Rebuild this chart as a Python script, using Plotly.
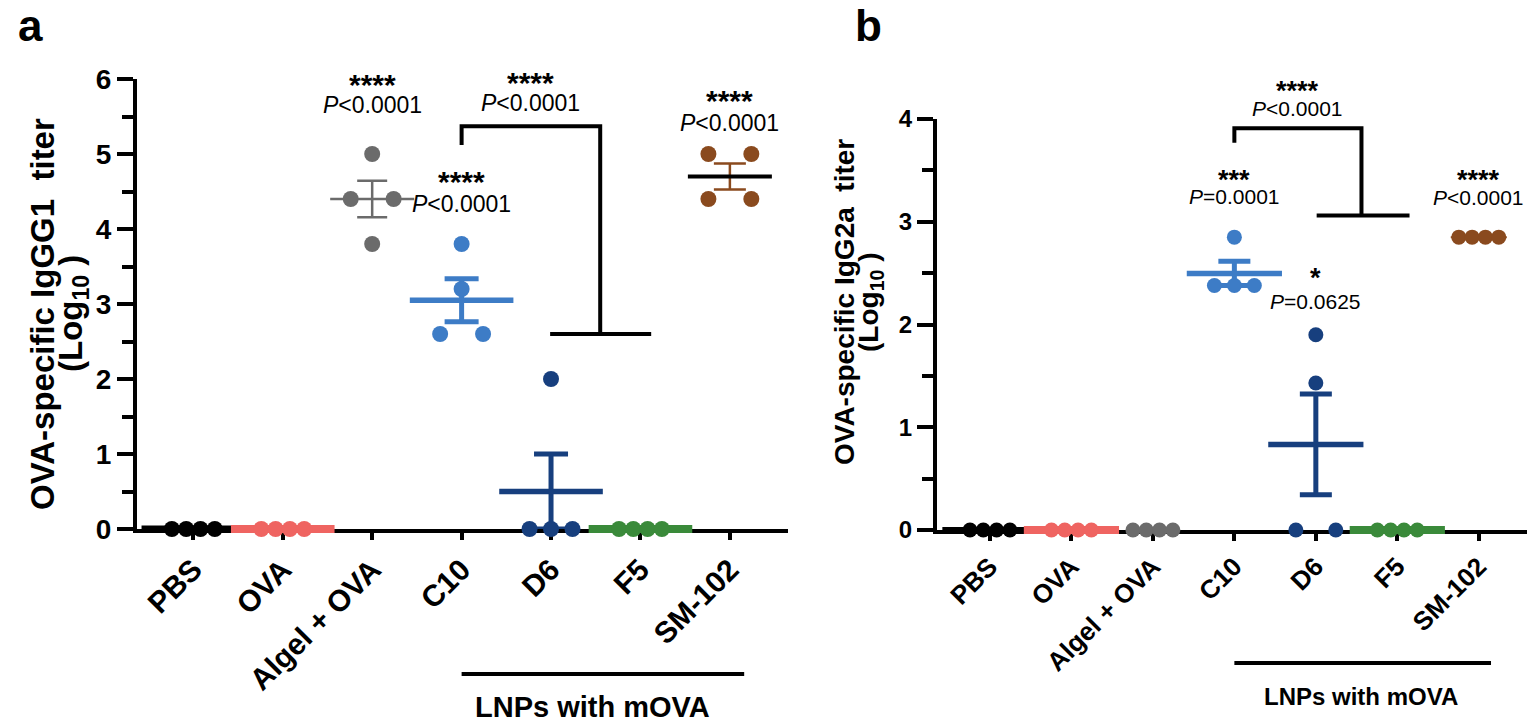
import numpy as np
import plotly.graph_objects as go

# page body keeps an 8px margin, so the figure is drawn 8px in from the top-left
OFFSET = 8
W, H = 1535 - OFFSET, 723 - OFFSET
FONT = "Arial, Liberation Sans, sans-serif"

GROUPS = ["PBS", "OVA", "Algel + OVA", "C10", "D6", "F5", "SM-102"]
COLORS = ["#000000", "#EF6461", "#6B6B6B", "#3D7CC6", "#173F7E", "#3A8A3A", "#8A4A1E"]

# log10 titers, 4 mice per group
IGG1_TITER = [
    [0, 0, 0, 0],
    [0, 0, 0, 0],
    [5.0, 4.4, 4.4, 3.8],
    [3.8, 3.2, 2.6, 2.6],
    [2.0, 0, 0, 0],
    [0, 0, 0, 0],
    [5.0, 5.0, 4.4, 4.4],
]
IGG2A_TITER = [
    [0, 0, 0, 0],
    [0, 0, 0, 0],
    [0, 0, 0, 0],
    [2.85, 2.38, 2.38, 2.38],
    [1.9, 1.43, 0, 0],
    [0, 0, 0, 0],
    [2.85, 2.85, 2.85, 2.85],
]

SIG_A = [("****", "<i>P</i>&lt;0.0001"), ("****", "<i>P</i>&lt;0.0001"),
         ("****", "<i>P</i>&lt;0.0001"), ("****", "<i>P</i>&lt;0.0001")]
SIG_B = [("****", "<i>P</i>&lt;0.0001"), ("***", "<i>P</i>=0.0001"),
         ("*", "<i>P</i>=0.0625"), ("****", "<i>P</i>&lt;0.0001")]

# mean line: (color, thickness, length px) ; error bar: (color, thickness, cap half width px)
MEAN_A = [("#000000", 7, 74), ("#EF6461", 8, 74), ("#6B6B6B", 2.5, 60), ("#3D7CC6", 5.5, 74),
          ("#173F7E", 5.5, 74), ("#3A8A3A", 8, 74), ("#000000", 4, 60)]
ERR_A = [("#000000", 5, 16), ("#EF6461", 5, 16), ("#6B6B6B", 2.5, 15), ("#3D7CC6", 5, 17),
         ("#173F7E", 5, 17), ("#3A8A3A", 5, 16), ("#8A4A1E", 2.5, 16)]
MEAN_B = [("#000000", 6, 68), ("#EF6461", 8, 68), ("#6B6B6B", 0, 40), ("#3D7CC6", 5.5, 68),
          ("#173F7E", 5.5, 68), ("#3A8A3A", 8, 68), ("#8A4A1E", 2, 40)]
ERR_B = [("#000000", 5, 16), ("#EF6461", 5, 16), ("#6B6B6B", 5, 16), ("#3D7CC6", 5, 16),
         ("#173F7E", 5, 16), ("#3A8A3A", 5, 16), ("#8A4A1E", 2, 16)]


def px_x(p):
    return (p - OFFSET) / W


def px_y(p):
    return 1 - (p - OFFSET) / H


def add_groups(fig, data, xa, ya, spread, msize, mean_st, err_st):
    for i, vals in enumerate(data):
        vals = np.array(vals, dtype=float)
        offs = np.zeros(len(vals))
        for v in np.unique(vals):
            idx = np.where(np.isclose(vals, v))[0]
            if len(idx) > 1:
                offs[idx] = np.linspace(-spread, spread, len(idx))
        mean = vals.mean()
        sem = vals.std(ddof=1) / np.sqrt(len(vals))
        mc, mw, ml = mean_st[i]
        ec, ew, cap = err_st[i]
        fig.add_trace(go.Scatter(
            x=[i], y=[mean], mode="markers", xaxis=xa, yaxis=ya, cliponaxis=False,
            marker=dict(symbol="line-ew", size=ml, color=mc,
                        line=dict(color=mc, width=mw), opacity=1 if mw > 0 else 0),
            error_y=dict(type="data", array=[sem], visible=bool(sem > 0),
                         color=ec, thickness=ew, width=cap),
            hoverinfo="skip"))
        fig.add_trace(go.Scatter(
            x=i + offs, y=vals, mode="markers",
            marker=dict(color=COLORS[i], size=msize, line=dict(width=0)),
            xaxis=xa, yaxis=ya, cliponaxis=False, name=GROUPS[i]))


fig = go.Figure()
add_groups(fig, IGG1_TITER, "x", "y", 0.24, 16, MEAN_A, ERR_A)
add_groups(fig, IGG2A_TITER, "x2", "y2", 0.245, 15, MEAN_B, ERR_B)

annotations = []
shapes = []


def txt(text, x, y, size, xref, yref, bold=False, angle=0):
    annotations.append(dict(
        text=f"<b>{text}</b>" if bold else text, x=x, y=y, xref=xref, yref=yref,
        showarrow=False, xanchor="center", yanchor="middle", textangle=angle,
        font=dict(family=FONT, size=size, color="black")))


# panel letters
txt("a", px_x(30), px_y(26), 44, "paper", "paper", bold=True)
txt("b", px_x(868), px_y(26), 44, "paper", "paper", bold=True)

# y titles
txt("OVA-specific IgGG1  titer", px_x(42), px_y(314), 33, "paper", "paper", bold=True, angle=-90)
txt("(Log<sub>10</sub> )", px_x(73), px_y(314), 33, "paper", "paper", bold=True, angle=-90)
txt("OVA-specific IgG2a  titer", px_x(845), px_y(302), 28, "paper", "paper", bold=True, angle=-90)
txt("(Log<sub>10</sub> )", px_x(871), px_y(302), 28, "paper", "paper", bold=True, angle=-90)

# significance labels, y given in data units, placed in axis-domain fraction
pos_a = [(2, 5.92, 5.65), (3, 4.63, 4.33), (3.77, 5.96, 5.68), (6, 5.71, 5.41)]
for (x, ys, yp), (stars, ptxt) in zip(pos_a, SIG_A):
    txt(stars, x, ys / 6, 30, "x", "y domain", bold=True)
    txt(ptxt, x, yp / 6, 23, "x", "y domain")
pos_b = [(3.77, 4.27, 4.10), (3.0, 3.41, 3.25), (4.0, 2.45, 2.22), (6.0, 3.41, 3.24)]
for (x, ys, yp), (stars, ptxt) in zip(pos_b, SIG_B):
    txt(stars, x, ys / 4, 27, "x2", "y2 domain", bold=True)
    txt(ptxt, x, yp / 4, 21, "x2", "y2 domain")

# comparison brackets
shapes.append(dict(type="path", xref="x", yref="y",
                   path="M 3,5.12 L 3,5.37 L 4.55,5.37 L 4.55,2.6",
                   line=dict(color="black", width=4)))
shapes.append(dict(type="line", xref="x", yref="y", x0=3.99, x1=5.12, y0=2.6, y1=2.6,
                   line=dict(color="black", width=4)))
shapes.append(dict(type="path", xref="x2", yref="y2",
                   path="M 3,3.77 L 3,3.91 L 4.56,3.91 L 4.56,3.06",
                   line=dict(color="black", width=4)))
shapes.append(dict(type="line", xref="x2", yref="y2", x0=4.01, x1=5.15, y0=3.06, y1=3.06,
                   line=dict(color="black", width=4)))

# LNP group bars
shapes.append(dict(type="line", xref="x", yref="paper", x0=3, x1=6.16,
                   y0=px_y(674), y1=px_y(674), line=dict(color="black", width=4)))
txt("LNPs with mOVA", 4.46, px_y(707), 29, "x", "paper", bold=True)
shapes.append(dict(type="line", xref="x2", yref="paper", x0=3, x1=6.15,
                   y0=px_y(663), y1=px_y(663), line=dict(color="black", width=4)))
txt("LNPs with mOVA", 4.56, px_y(696), 24, "x2", "paper", bold=True)

# x-axis stubs left of y axes
shapes.append(dict(type="line", xref="paper", yref="y", x0=px_x(118), x1=px_x(137),
                   y0=0, y1=0, layer="below", line=dict(color="black", width=4)))
shapes.append(dict(type="line", xref="paper", yref="y2", x0=px_x(920), x1=px_x(937),
                   y0=0, y1=0, layer="below", line=dict(color="black", width=4)))


def xaxis(domain, rng, size, anchor):
    return dict(domain=domain, range=rng, anchor=anchor, tickmode="array",
                tickvals=list(range(len(GROUPS))), ticktext=GROUPS, tickangle=-45,
                ticks="outside", ticklen=7, tickwidth=3.5, tickcolor="black",
                showline=True, linewidth=4, linecolor="black", showgrid=False, zeroline=False,
                automargin=False, layer="below traces",
                tickfont=dict(family=FONT, size=size, color="black", weight="bold"))


def yaxis(domain, rng, size, anchor):
    return dict(domain=domain, range=rng, anchor=anchor, dtick=1, tick0=0,
                ticks="outside", ticklen=16, tickwidth=4, tickcolor="black",
                minor=dict(dtick=0.5, ticks="outside", ticklen=11, tickwidth=4, tickcolor="black"),
                showline=True, linewidth=4, linecolor="black", showgrid=False, zeroline=False,
                automargin=False, layer="below traces",
                tickfont=dict(family=FONT, size=size, color="black", weight="bold"))


fig.update_layout(
    width=W, height=H, margin=dict(l=0, r=0, t=0, b=0, autoexpand=False),
    paper_bgcolor="white", plot_bgcolor="white", showlegend=False,
    xaxis=xaxis([px_x(137), px_x(788)], [-0.63, 6.65], 30, "y"),
    yaxis=yaxis([px_y(529), px_y(79)], [0, 6], 28, "x"),
    xaxis2=xaxis([px_x(937), 1.0], [-0.65, 6.69], 26, "y2"),
    yaxis2=yaxis([px_y(530), px_y(119)], [0, 4], 24, "x2"),
    annotations=annotations, shapes=shapes,
)

fig.write_html("out.html")
